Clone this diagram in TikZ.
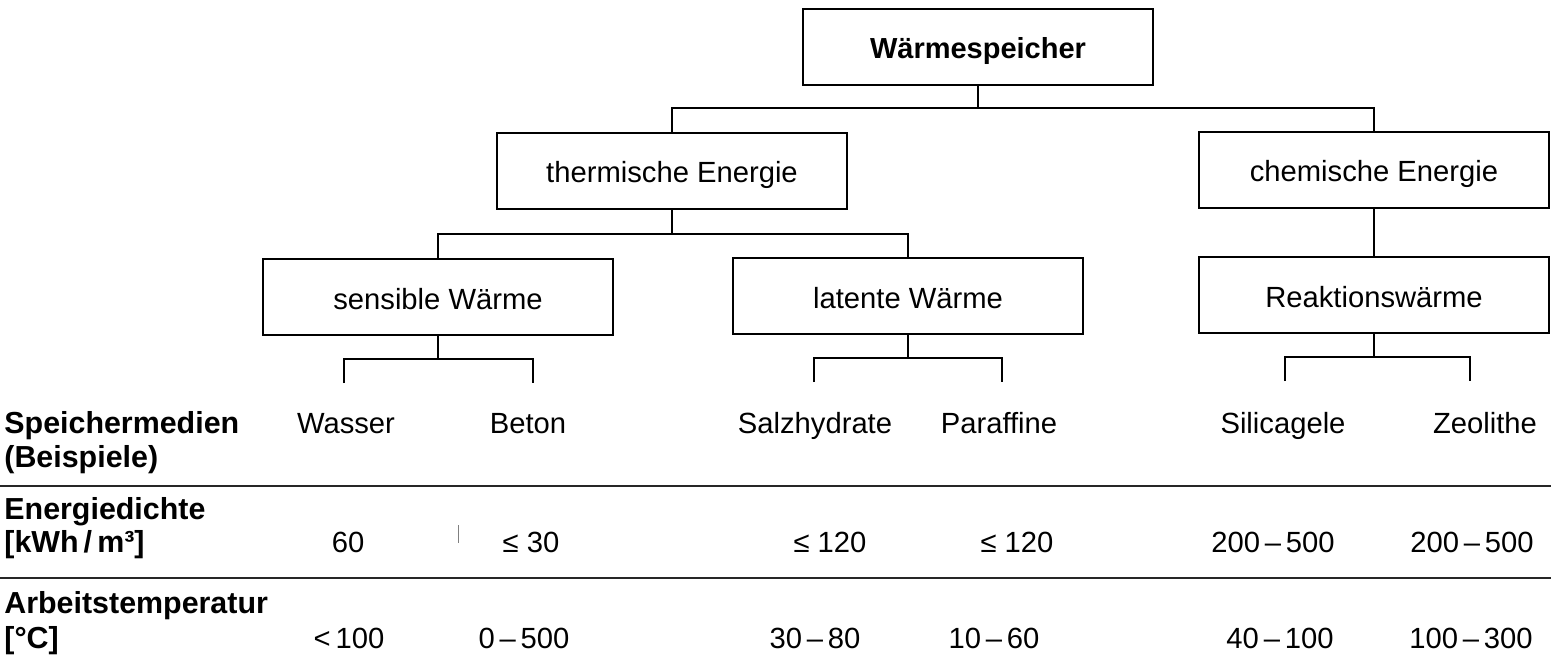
\documentclass[tikz,border=0pt]{standalone}
\usepackage{fontspec}
\setmainfont{Liberation Sans}
\begin{document}
\begin{tikzpicture}[x=0.5pt,y=-0.5pt,
  box/.style={draw,line width=0.75pt,minimum width=175pt,minimum height=38pt,inner sep=0pt,text height=12pt,text depth=0pt,font=\fontsize{14.6}{16}\selectfont},
  topbox/.style={box,font=\fontsize{14.5}{16}\selectfont\bfseries},
  conn/.style={line width=0.7pt},
  rule/.style={line width=0.9pt,draw=black!85},
  cell/.style={anchor=base,inner sep=0pt,font=\fontsize{14.6}{16}\selectfont},
  head/.style={anchor=base west,inner sep=0pt,font=\fontsize{15.2}{17}\selectfont\bfseries}]
\useasboundingbox (0,0) rectangle (1562,668);
% boxes
\node[topbox] (top) at (978,47) {Wärmespeicher};
\node[box] (therm) at (672,171) {thermische Energie};
\node[box] (chem) at (1374,170) {chemische Energie};
\node[box] (sens) at (438,297) {sensible Wärme};
\node[box] (lat) at (908,296) {latente Wärme};
\node[box] (reak) at (1374,295) {Reaktionswärme};
% branch coordinates
\coordinate (b1) at (978,108);
\coordinate (b2) at (672,234);
\coordinate (b3) at (438,359);
\coordinate (b4) at (908,358);
\coordinate (b5) at (1374,357);
\coordinate (t1) at (344,383);
\coordinate (t2) at (533,383);
\coordinate (t3) at (814,382);
\coordinate (t4) at (1002,382);
\coordinate (t5) at (1285,381);
\coordinate (t6) at (1470,381);
% connectors
\draw[conn] (top.south) -- (b1);
\draw[conn] (therm.north) |- (b1) -| (chem.north);
\draw[conn] (chem.south) -- (reak.north);
\draw[conn] (therm.south) -- (b2);
\draw[conn] (sens.north) |- (b2) -| (lat.north);
\draw[conn] (sens.south) -- (b3);
\draw[conn] (t1) |- (b3) -| (t2);
\draw[conn] (lat.south) -- (b4);
\draw[conn] (t3) |- (b4) -| (t4);
\draw[conn] (reak.south) -- (b5);
\draw[conn] (t5) |- (b5) -| (t6);
% table headers
\node[head] (h1) at (4,433) {Speichermedien};
\node[head] (h1b) at (4,467) {(Beispiele)};
\node[head] (h2) at (4,519) {Energiedichte};
\node[head] (h2b) at (4,552) {[kWh\,/\,m³]};
\node[head] (h3) at (4,613) {Arbeitstemperatur};
\node[head] (h3b) at (4,648) {[°C]};
% media
\node[cell] (m1) at (346,433) {Wasser};
\node[cell] (m2) at (528,433) {Beton};
\node[cell] (m3) at (815,433) {Salzhydrate};
\node[cell] (m4) at (999,433) {Paraffine};
\node[cell] (m5) at (1283,433) {Silicagele};
\node[cell] (m6) at (1485,433) {Zeolithe};
% energy density
\node[cell] (e1) at (348,552) {60};
\node[cell] (e2) at (531,552) {≤ 30};
\node[cell] (e3) at (830,552) {≤ 120};
\node[cell] (e4) at (1017,552) {≤ 120};
\node[cell] (e5) at (1273,552) {200\,–\,500};
\node[cell] (e6) at (1472,552) {200\,–\,500};
% working temperature
\node[cell] (w1) at (349,648) {<\,100};
\node[cell] (w2) at (524,648) {0\,–\,500};
\node[cell] (w3) at (815,648) {30\,–\,80};
\node[cell] (w4) at (994,648) {10\,–\,60};
\node[cell] (w5) at (1280,648) {40\,–\,100};
\node[cell] (w6) at (1471,648) {100\,–\,300};
% table rules
\coordinate (r1a) at (0,486);
\coordinate (r1b) at (1551,486);
\coordinate (r2a) at (0,578);
\coordinate (r2b) at (1551,578);
\draw[rule] (r1a) -- (r1b);
\draw[rule] (r2a) -- (r2b);
% small stray mark
\coordinate (s1) at (458,525);
\coordinate (s2) at (458,543);
\draw[line width=0.4pt,black!50] (s1) -- (s2);
\end{tikzpicture}
\end{document}
